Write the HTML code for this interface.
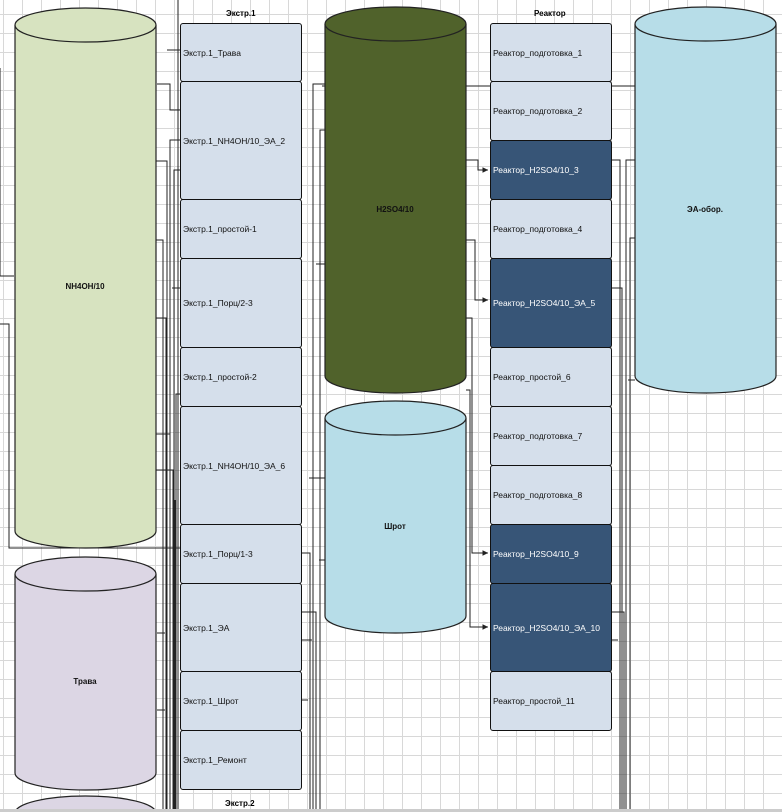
<!DOCTYPE html>
<html><head><meta charset="utf-8"><style>
html,body{margin:0;padding:0;}
body{width:782px;height:812px;overflow:hidden;position:relative;background:#fff;
background-image:linear-gradient(to right,#d8d8d8 1px,transparent 1px),linear-gradient(to bottom,#d8d8d8 1px,transparent 1px);
background-size:19px 19px;background-position:3px 14px;font-family:"Liberation Sans",sans-serif;}
.b{position:absolute;box-sizing:border-box;border:1.5px solid #111;border-radius:3px;background:#d5dfeb;font-size:8.5px;display:flex;align-items:center;padding-left:2px;color:#111;}
.d{background:#375577;color:#fff;}
.c1{left:180px;width:122px;}
.c2{left:490px;width:122px;}
.h{position:absolute;font-size:8px;font-weight:bold;}
svg{position:absolute;left:0;top:0;}
</style></head><body>
<svg width="782" height="812">
<g fill="none" stroke="#222" stroke-width="1">
<!-- left bundles -->
<path d="M0 68 V276 H14"/>
<path d="M0 324 H9 V548 H180"/>
<path d="M157 84 H170 V110 H180"/>
<path d="M156 161 H167 V810"/>
<path d="M156 240 H163 V810"/>
<path d="M156 318 H166 V810"/>
<path d="M156 434 H170 V810"/>
<path d="M156 470 H173 V810"/>
<path d="M157 633 H165"/>
<path d="M157 710 H165"/>
<path d="M180 50 H167"/>
<path d="M180 140 H170 V810"/>
<path d="M180 170 H174 V810"/>
<path d="M180 288 H172"/>
<path d="M180 394 H176 V810"/>
<path d="M178 0 V810"/>
<path d="M175 500 V810"/>
<!-- right of col1 -->
<path d="M302 553 H310 V810"/>
<path d="M302 612 H316 V810"/>
<path d="M302 640 H312"/>
<path d="M302 700 H308"/>
<path d="M325 84 H313 V810"/>
<path d="M325 130 H320 V810"/>
<path d="M325 264 H316"/>
<path d="M325 478 H309"/>
<path d="M325 560 H319"/>
<path d="M322 86 H635"/>
<!-- H2SO4 to reactor -->
<path d="M466 160 H478 V170 H488"/>
<path d="M466 240 H475 V300 H488"/>
<path d="M466 318 H472 V553 H488"/>
<path d="M466 390 H470 V627 H488"/>
<path d="M487 170 l-4 -2 v4z M487 300 l-4 -2 v4z M487 553 l-4 -2 v4z M487 627 l-4 -2 v4z" fill="#222"/>
<!-- right of col2 -->
<path d="M612 160 H620 V810"/>
<path d="M612 288 H622 V810"/>
<path d="M612 612 H624 V810"/>
<path d="M612 640 H618"/>
<path d="M635 160 H626 V810"/>
<path d="M635 238 H630 V810"/>
<path d="M635 380 H628"/>
</g>
<!-- cylinders -->
<g stroke="#222" stroke-width="1.2">
<path d="M15 25 V531 A70.5 17 0 0 0 156 531 V25" fill="#d7e3c0"/>
<ellipse cx="85.5" cy="25" rx="70.5" ry="17" fill="#d7e3c0"/>
<path d="M15 574 V773 A70.5 17 0 0 0 156 773 V574" fill="#dcd6e4"/>
<ellipse cx="85.5" cy="574" rx="70.5" ry="17" fill="#dcd6e4"/>
<path d="M15 812 V813 L156 813 V812" fill="#dcd6e4"/>
<ellipse cx="85.5" cy="813" rx="70.5" ry="17" fill="#dcd6e4"/>
<path d="M325 24 V376 A70.5 17 0 0 0 466 376 V24" fill="#50622b"/>
<ellipse cx="395.5" cy="24" rx="70.5" ry="17" fill="#50622b"/>
<path d="M325 418 V616 A70.5 17 0 0 0 466 616 V418" fill="#b7dde8"/>
<ellipse cx="395.5" cy="418" rx="70.5" ry="17" fill="#b7dde8"/>
<path d="M635 24 V376 A70.5 17 0 0 0 776 376 V24" fill="#b7dde8"/>
<ellipse cx="705.5" cy="24" rx="70.5" ry="17" fill="#b7dde8"/>
</g>
<g font-family="Liberation Sans,sans-serif" font-size="8" font-weight="bold" text-anchor="middle" fill="#111">
<text x="85" y="289">NH4OH/10</text>
<text x="85" y="684">Трава</text>
<text x="395" y="212">H2SO4/10</text>
<text x="395" y="529">Шрот</text>
<text x="705" y="212">ЭА-обор.</text>
</g>
<rect x="0" y="809" width="782" height="3" fill="#ccc"/>
</svg>
<div class="h" style="left:226px;top:9px">Экстр.1</div>
<div class="h" style="left:534px;top:9px">Реактор</div>
<div class="h" style="left:225px;top:799px">Экстр.2</div>
<div class="b c1" style="top:23px;height:59px">Экстр.1_Трава</div>
<div class="b c1" style="top:81px;height:119px">Экстр.1_NH4OH/10_ЭА_2</div>
<div class="b c1" style="top:199px;height:60px">Экстр.1_простой-1</div>
<div class="b c1" style="top:258px;height:90px">Экстр.1_Порц/2-3</div>
<div class="b c1" style="top:347px;height:60px">Экстр.1_простой-2</div>
<div class="b c1" style="top:406px;height:119px">Экстр.1_NH4OH/10_ЭА_6</div>
<div class="b c1" style="top:524px;height:60px">Экстр.1_Порц/1-3</div>
<div class="b c1" style="top:583px;height:89px">Экстр.1_ЭА</div>
<div class="b c1" style="top:671px;height:60px">Экстр.1_Шрот</div>
<div class="b c1" style="top:730px;height:60px">Экстр.1_Ремонт</div>
<div class="b c2" style="top:23px;height:59px">Реактор_подготовка_1</div>
<div class="b c2" style="top:81px;height:60px">Реактор_подготовка_2</div>
<div class="b c2 d" style="top:140px;height:60px">Реактор_H2SO4/10_3</div>
<div class="b c2" style="top:199px;height:60px">Реактор_подготовка_4</div>
<div class="b c2 d" style="top:258px;height:90px">Реактор_H2SO4/10_ЭА_5</div>
<div class="b c2" style="top:347px;height:60px">Реактор_простой_6</div>
<div class="b c2" style="top:406px;height:60px">Реактор_подготовка_7</div>
<div class="b c2" style="top:465px;height:60px">Реактор_подготовка_8</div>
<div class="b c2 d" style="top:524px;height:60px">Реактор_H2SO4/10_9</div>
<div class="b c2 d" style="top:583px;height:89px">Реактор_H2SO4/10_ЭА_10</div>
<div class="b c2" style="top:671px;height:60px">Реактор_простой_11</div>
</body></html>
